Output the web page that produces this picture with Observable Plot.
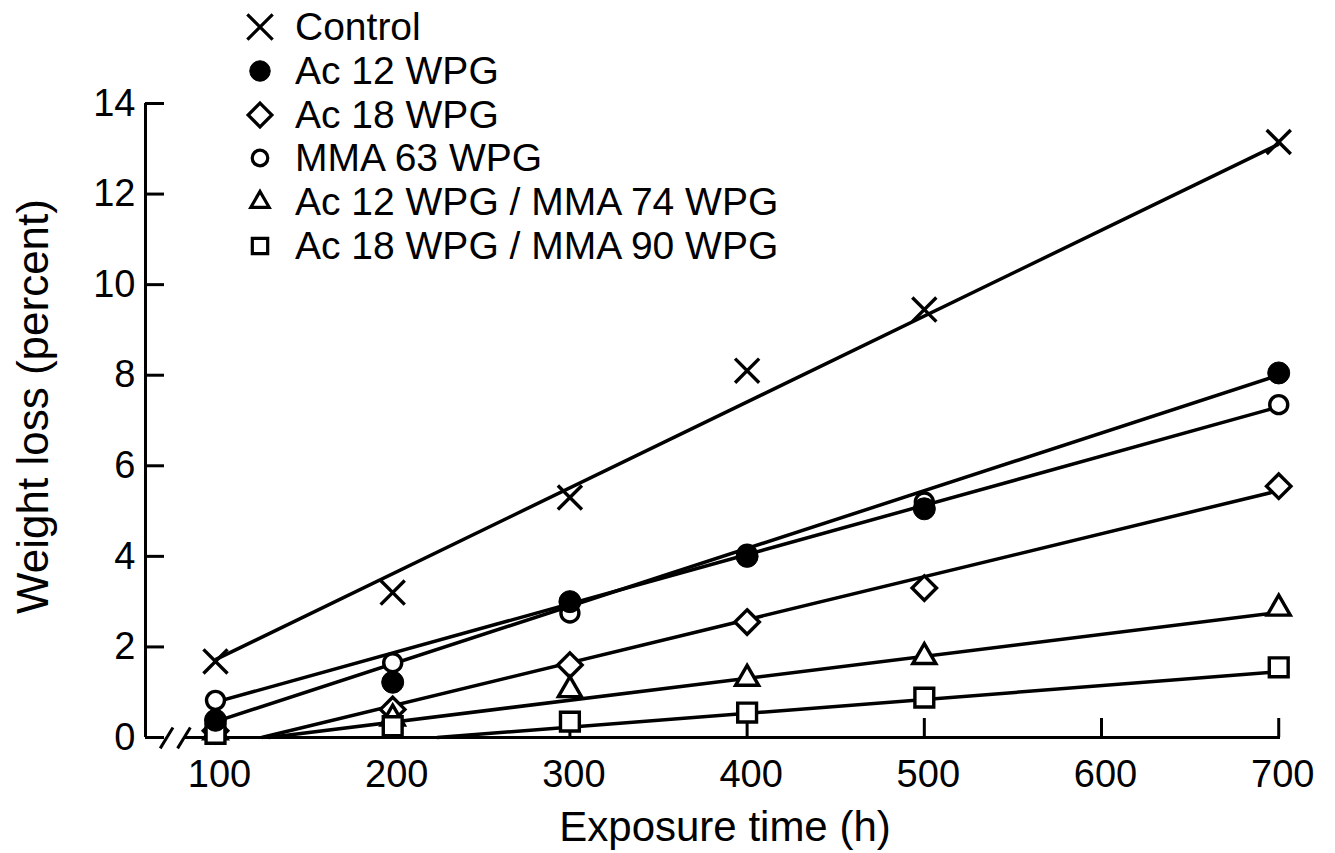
<!DOCTYPE html>
<html>
<head>
<meta charset="utf-8">
<script src="https://cdn.jsdelivr.net/npm/d3@7"></script>
<script src="https://cdn.jsdelivr.net/npm/@observablehq/plot@0.6"></script>
<style>
  html, body { margin: 0; padding: 0; background: #fff; }
  #wrap { position: relative; width: 1335px; height: 853px; font-family: "Liberation Sans", Arial, sans-serif; color: #000; }
  #wrap svg.chart { display: block; }
  #legend { position: absolute; left: 0; top: 0; }
  .lrow { position: absolute; left: 240px; height: 44px; display: flex; align-items: center; font-size: 39px; white-space: pre; }
  .lrow svg { width: 40px; height: 44px; display: block; }
  .lrow span { margin-left: 15px; }
</style>
</head>
<body>
<div id="wrap"></div>
<script>
// ---- data ----
const hours = [100, 200, 300, 400, 500, 700];
const seriesNames = ["Control", "Ac 12 WPG", "Ac 18 WPG", "MMA 63 WPG", "Ac 12 WPG / MMA 74 WPG", "Ac 18 WPG / MMA 90 WPG"];
const seriesSymbols = ["times", "circle", "diamond2", "circle", "triangle2", "square2"];
const seriesFilled = [false, true, false, false, false, false];

const controlLoss = [1.68, 3.2, 5.3, 8.1, 9.45, 13.15];
const ac12Loss    = [0.38, 1.22, 3.0, 4.0, 5.05, 8.05];
const ac18Loss    = [0.15, 0.62, 1.6, 2.55, 3.3, 5.55];
const mma63Loss   = [0.82, 1.65, 2.75, 4.05, 5.2, 7.35];
const ac12mmaLoss = [0.12, 0.42, 1.05, 1.3, 1.78, 2.85];
const ac18mmaLoss = [0.08, 0.25, 0.35, 0.55, 0.88, 1.55];
const seriesLoss = [controlLoss, ac12Loss, ac18Loss, mma63Loss, ac12mmaLoss, ac18mmaLoss];

// hand-drawn fit lines: start / end (hours, percent)
const fitStartHours = [100, 100, 126, 100, 130, 225];
const fitStartLoss  = [1.72, 0.35, 0, 0.78, 0, 0];
const fitEndHours   = [700, 700, 700, 700, 700, 700];
const fitEndLoss    = [13.1, 8.0, 5.45, 7.3, 2.76, 1.45];

const xTicks = [100, 200, 300, 400, 500, 600, 700];
const yTicks = [0, 2, 4, 6, 8, 10, 12, 14];
const xDomain = [60.5, 701];
const yDomain = [0, 14];
// axis break on the time axis (hours)
const axisSegments = [[60.5, 69], [83, 701]];
const breakSlashHours = [72.4, 82.2];
const breakHalfWidth = 3.6;
const breakLow = -0.24, breakHigh = 0.22;

// ---- tables ----
const points = [];
seriesNames.forEach((name, s) => {
  hours.forEach((h, i) => points.push({series: s, name, hours: h, loss: seriesLoss[s][i]}));
});
const fits = seriesNames.map((name, s) => ({
  name, x1: fitStartHours[s], y1: fitStartLoss[s], x2: fitEndHours[s], y2: fitEndLoss[s]
}));

const W = 1335, H = 853;
const mL = 145, mR = 55, mT = 103, mB = 116;
const frameW = W - mL - mR, frameH = H - mT - mB;
const tickLen = 19;
const font = "'Liberation Sans', Arial, sans-serif";

// draw order of markers: open ones first, filled circle last
const drawOrder = [0, 2, 4, 5, 3, 1];

const marks = [
  // axes lines
  Plot.ruleX([xDomain[0]], {y1: yDomain[0], y2: yDomain[1], stroke: "black", strokeWidth: 3}),
  Plot.ruleY(axisSegments, {y: 0, x1: d => d[0], x2: d => d[1], stroke: "black", strokeWidth: 3}),
  Plot.link(breakSlashHours, {x1: d => d - breakHalfWidth, x2: d => d + breakHalfWidth, y1: breakLow, y2: breakHigh, stroke: "black", strokeWidth: 3}),
  // inward ticks
  Plot.tickY(yTicks, {y: d => d, insetRight: frameW - tickLen, stroke: "black", strokeWidth: 3}),
  Plot.tickX(xTicks, {x: d => d, insetTop: frameH - tickLen, stroke: "black", strokeWidth: 3}),
  // tick labels
  Plot.axisY({ticks: yTicks, tickSize: 0, tickPadding: 10, label: null, fontSize: 38, tickFormat: d => String(d)}),
  Plot.axisX({ticks: xTicks, tickSize: 0, tickPadding: 23, dx: 4, label: null, fontSize: 38, tickFormat: d => String(d)}),
  // axis titles
  Plot.text(["Exposure time (h)"], {frameAnchor: "bottom", dx: 12, dy: 103, fontSize: 42, text: d => d}),
  Plot.text(["Weight loss (percent)"], {frameAnchor: "left", textAnchor: "middle", dx: -112, dy: -14, rotate: -90, fontSize: 44, text: d => d}),
  // fitted lines
  Plot.link(fits, {x1: "x1", y1: "y1", x2: "x2", y2: "y2", stroke: "black", strokeWidth: 3.5}),
  // markers
  ...drawOrder.map(s => Plot.dot(points.filter(p => p.series === s), {
    x: "hours", y: "loss",
    symbol: seriesSymbols[s],
    r: seriesSymbols[s] === "circle" ? (seriesFilled[s] ? 11 : 9) : (seriesSymbols[s] === "square2" ? 12 : 11),
    fill: seriesFilled[s] ? "black" : (seriesSymbols[s] === "times" ? "none" : "white"),
    stroke: "black",
    strokeWidth: seriesFilled[s] ? 1 : 3.4
  }))
];

const chart = Plot.plot({
  width: W, height: H,
  marginLeft: mL, marginRight: mR, marginTop: mT, marginBottom: mB,
  x: {domain: xDomain},
  y: {domain: yDomain},
  style: {fontFamily: font, fontSize: "38px", color: "black", background: "white"},
  marks
});
chart.classList.add("chart");
const wrap = document.getElementById("wrap");
wrap.appendChild(chart);

// ---- legend (overlaid in the upper part of the plot) ----
const symbolTypes = {
  times: d3.symbolTimes, circle: d3.symbolCircle, diamond2: d3.symbolDiamond2,
  triangle2: d3.symbolTriangle2, square2: d3.symbolSquare2
};
const legendSizes = [420, 330, 360, 190, 240, 300];
const legend = document.createElement("div");
legend.id = "legend";
seriesNames.forEach((name, s) => {
  const row = document.createElement("div");
  row.className = "lrow";
  row.style.top = (5 + s * 43.8) + "px";
  const svg = d3.create("svg").attr("viewBox", "-20 -22 40 44");
  svg.append("path")
    .attr("d", d3.symbol(symbolTypes[seriesSymbols[s]], legendSizes[s])())
    .attr("fill", seriesFilled[s] ? "black" : "none")
    .attr("stroke", "black")
    .attr("stroke-width", seriesFilled[s] ? 1 : 3.2);
  row.appendChild(svg.node());
  const span = document.createElement("span");
  span.textContent = name;
  row.appendChild(span);
  legend.appendChild(row);
});
wrap.appendChild(legend);
</script>
</body>
</html>
